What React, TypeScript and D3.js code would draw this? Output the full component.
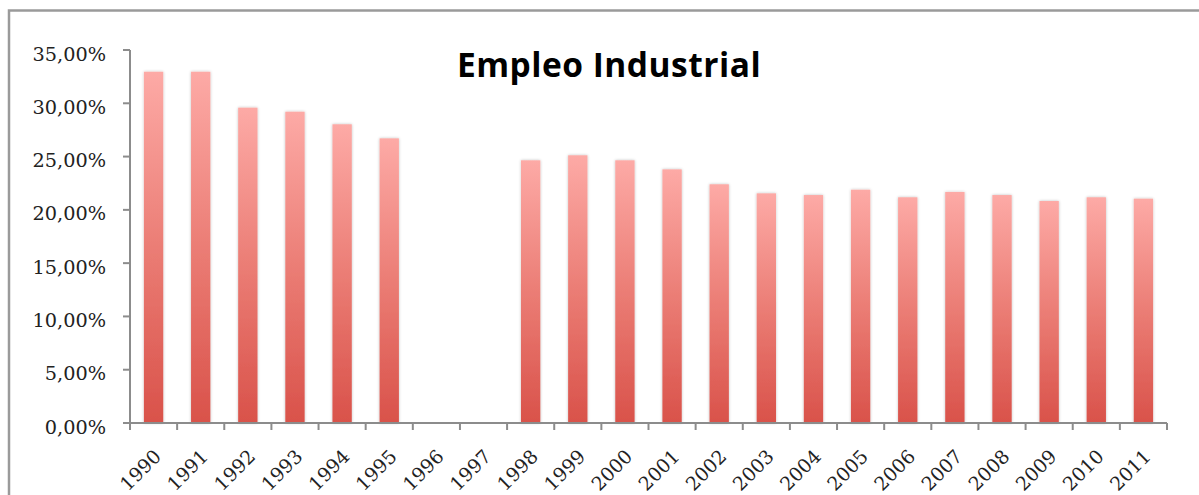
import React from "react";
import * as d3 from "d3";

const years: string[] = ["1990","1991","1992","1993","1994","1995","1996","1997","1998","1999","2000","2001","2002","2003","2004","2005","2006","2007","2008","2009","2010","2011"];
const empleo: (number | null)[] = [32.96,32.96,29.59,29.21,28.03,26.71,null,null,24.65,25.12,24.65,23.8,22.4,21.55,21.39,21.89,21.18,21.68,21.39,20.83,21.18,21.05];
const yTicks: number[] = [0,5,10,15,20,25,30,35];
const title = "Empleo Industrial";

export default function App() {
  const W = 1199, H = 495;
  const x0 = 130, x1 = 1167, yTop = 50, yBot = 423;
  const x = d3.scaleBand<string>().domain(years).range([x0, x1]).paddingInner(0.59).paddingOuter(0.295);
  const y = d3.scaleLinear().domain([0, 35]).range([yBot, yTop]);
  const fmt = (v: number) => v.toFixed(2).replace(".", ",") + "%";
  const step = (x1 - x0) / years.length;
  return (
    <svg width={W} height={H} style={{ position: "absolute", left: 0, top: 0 }}>
      <defs>
        <linearGradient id="barG" x1="0" y1="0" x2="0" y2="1">
          <stop offset="0%" stopColor="#FDAAA6" />
          <stop offset="50%" stopColor="#EB7D75" />
          <stop offset="100%" stopColor="#D9524A" />
        </linearGradient>
        <filter id="sh" x="-30%" y="-5%" width="160%" height="110%">
          <feGaussianBlur in="SourceAlpha" stdDeviation="1.5" />
          <feOffset dx="0" dy="0" result="b" />
          <feComponentTransfer><feFuncA type="linear" slope="0.25" /></feComponentTransfer>
          <feMerge><feMergeNode /><feMergeNode in="SourceGraphic" /></feMerge>
        </filter>
      </defs>
      <rect x={0} y={0} width={W} height={H} fill="#fff" />
      <rect x={9} y={10.5} width={W + 10} height={H + 10} fill="none" stroke="#9a9a9a" strokeWidth={2.5} />
      <text x={609} y={77} textAnchor="middle" fontFamily="'Open Sans', Lato, sans-serif" fontWeight="bold" fontSize={33.5} letterSpacing={0.5} fill="#000">{title}</text>
      {years.map((yr, i) => {
        const v = empleo[i];
        if (v == null) return null;
        return (
          <rect key={yr} x={x(yr)} y={y(v)} width={x.bandwidth()} height={yBot - y(v)} fill="url(#barG)" filter="url(#sh)" />
        );
      })}
      <line x1={x0} y1={yTop} x2={x0} y2={yBot} stroke="#8c8c8c" strokeWidth={2} />
      <line x1={x0} y1={yBot} x2={x1} y2={yBot} stroke="#8c8c8c" strokeWidth={2} />
      {yTicks.map(t => (
        <g key={t}>
          <line x1={x0 - 7} x2={x0} y1={y(t)} y2={y(t)} stroke="#8c8c8c" strokeWidth={2} />
          <text x={106} y={y(t) + 10.5} textAnchor="end" fontFamily="'DejaVu Serif', serif" fontSize={19.3} fill="#222">{fmt(t)}</text>
        </g>
      ))}
      {d3.range(years.length + 1).map(i => (
        <line key={i} x1={x0 + i * step} x2={x0 + i * step} y1={yBot} y2={yBot + 7} stroke="#8c8c8c" strokeWidth={2} />
      ))}
      {years.map(yr => {
        const cx = (x(yr) as number) + x.bandwidth() / 2 + 4;
        return (
          <text key={yr} transform={`translate(${cx},${yBot + 30}) rotate(-45)`} textAnchor="end" dy="0.35em" fontFamily="'DejaVu Serif', serif" fontSize={19} fill="#222">{yr}</text>
        );
      })}
    </svg>
  );
}
